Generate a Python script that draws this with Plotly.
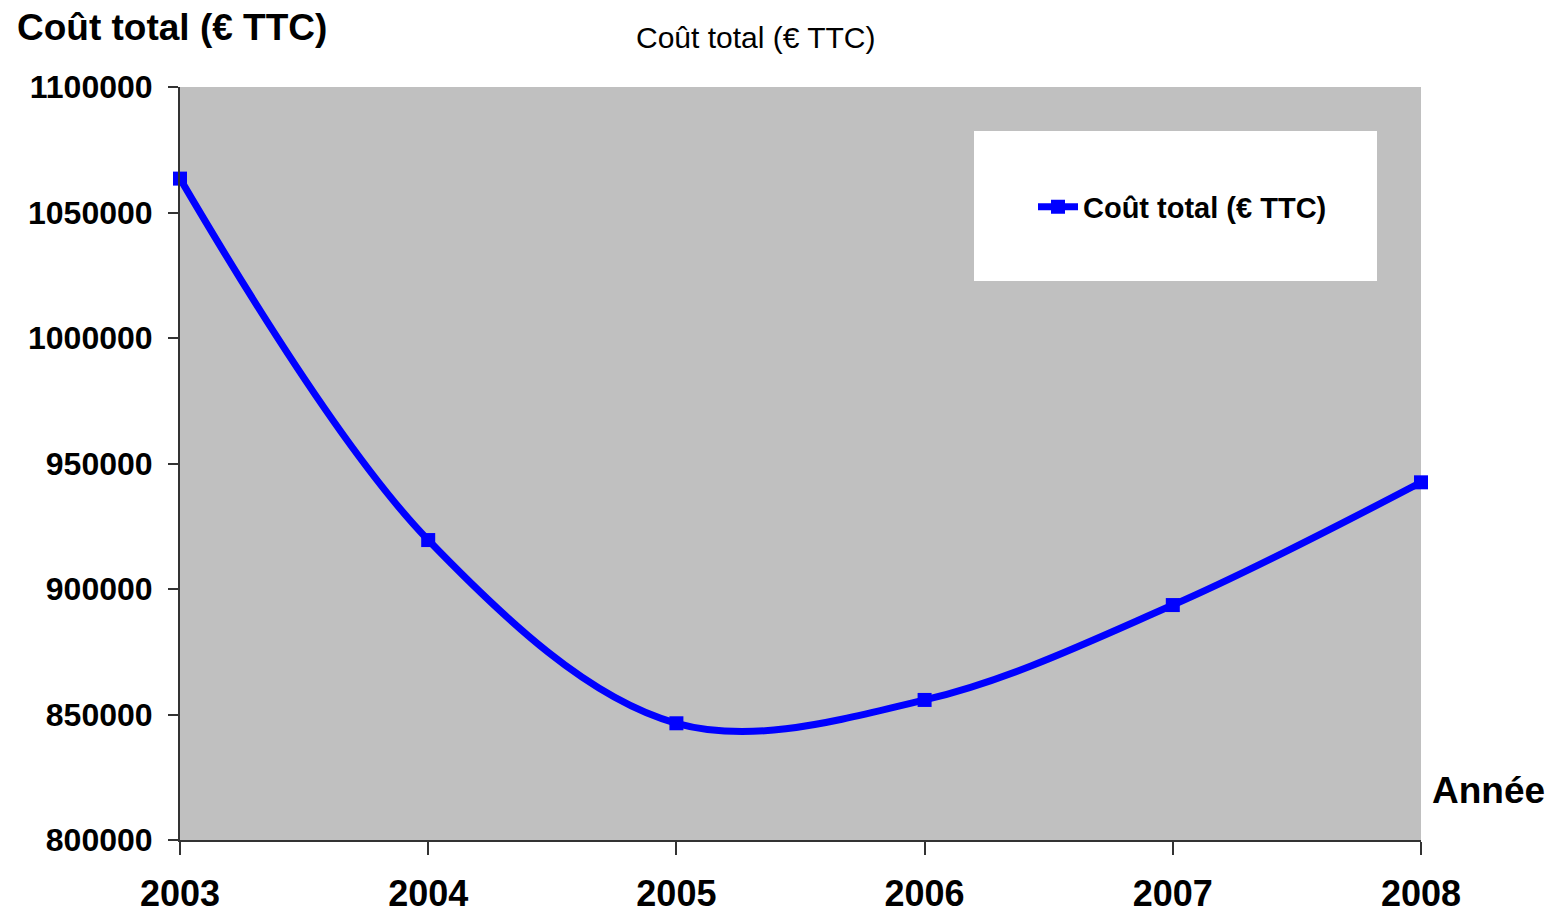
import plotly.graph_objects as go

years = [2003, 2004, 2005, 2006, 2007, 2008]
cout_total = [1063500, 919500, 846500, 855800, 893600, 942500]
series_name = "Coût total (€ TTC)"
y_ticks = [800000, 850000, 900000, 950000, 1000000, 1050000, 1100000]

# page is 1555x915; the browser body has an 8px margin at the top-left
OFF = 8
W, H = 1555 - 2 * OFF, 915 - OFF
PL, PR, PT, PB = 180, 1421, 87, 840  # plot area in page pixels
L, R, T, B = PL - OFF, (W + OFF) - PR, PT - OFF, (H + OFF) - PB
pw, ph = PR - PL, PB - PT

def px(x):
    return (x - PL) / pw

def py(y):
    return (PB - y) / ph

fig = go.Figure()
fig.add_trace(go.Scatter(
    x=years, y=cout_total, name=series_name,
    mode="lines+markers",
    line=dict(color="#0000FF", width=7, shape="spline", smoothing=1.0),
    marker=dict(symbol="square", size=14, color="#0000FF"),
    cliponaxis=False,
))

fig.add_shape(type="rect", xref="paper", yref="paper",
              x0=px(974), x1=px(1377), y0=py(281), y1=py(131),
              fillcolor="white", line=dict(width=0), layer="below")

font_b = "Liberation Sans"
fig.update_layout(
    width=W, height=H,
    margin=dict(l=L, r=R, t=T, b=B, pad=0, autoexpand=False),
    paper_bgcolor="white", plot_bgcolor="#C0C0C0",
    showlegend=True,
    legend=dict(x=px(1033), y=py(207), xanchor="left", yanchor="middle",
                bgcolor="rgba(0,0,0,0)",
                font=dict(family=font_b, size=29, color="black", weight="bold"),
                itemwidth=40),
    xaxis=dict(range=[2003, 2008], tickvals=years, ticktext=[str(y) for y in years],
               automargin=False,
               showgrid=False, zeroline=False, showline=True, linecolor="#333333", linewidth=2,
               ticks="outside", ticklen=13, tickwidth=2, tickcolor="#333333",
               tickfont=dict(family=font_b, size=36, color="black", weight="bold"),
               ticklabelstandoff=8),
    yaxis=dict(range=[800000, 1100000], tickvals=y_ticks, tickformat=".0f",
               automargin=False,
               showgrid=False, zeroline=False, showline=True, linecolor="#333333", linewidth=2,
               ticks="outside", ticklen=10, tickwidth=2, tickcolor="#333333",
               tickfont=dict(family=font_b, size=32, color="black", weight="bold"),
               ticklabelstandoff=9),
    annotations=[
        dict(text=series_name, xref="paper", yref="paper", x=px(15), y=py(27),
             xanchor="left", yanchor="middle", showarrow=False,
             font=dict(family=font_b, size=37, color="black", weight="bold")),
        dict(text=series_name, xref="paper", yref="paper", x=px(756), y=py(37),
             xanchor="center", yanchor="middle", showarrow=False,
             font=dict(family=font_b, size=30, color="black")),
        dict(text="Année", xref="paper", yref="paper", x=px(1488), y=py(790),
             xanchor="center", yanchor="middle", showarrow=False,
             font=dict(family=font_b, size=37, color="black", weight="bold")),
    ],
)

fig.write_html("out.html")
